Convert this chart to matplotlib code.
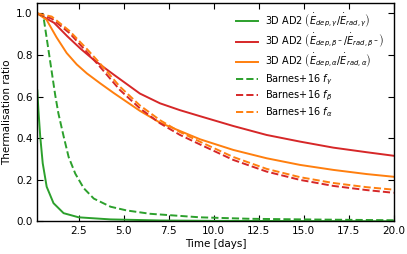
import matplotlib
matplotlib.use("Agg")
import matplotlib.pyplot as plt

# 3D AD2 gamma (solid green)
t_gamma_3d = [0.2, 0.26, 0.36, 0.5, 0.72, 1.1, 1.66, 2.5, 4.27, 7.0, 10.0, 20.0]
v_gamma_3d = [0.63, 0.536, 0.41, 0.28, 0.167, 0.088, 0.04, 0.02, 0.01, 0.005, 0.003, 0.001]

# 3D AD2 beta (solid red)
t_beta_3d = [0.2, 1.13, 1.87, 2.61, 3.35, 4.46, 5.9, 7.02, 8.13, 9.25, 11.09, 12.94, 14.8, 16.65, 18.5, 20.0]
v_beta_3d = [1.0, 0.955, 0.89, 0.83, 0.776, 0.705, 0.615, 0.568, 0.535, 0.506, 0.459, 0.416, 0.384, 0.355, 0.333, 0.316]

# 3D AD2 alpha (solid orange)
t_alpha_3d = [0.2, 0.71, 1.27, 1.83, 2.39, 2.95, 3.68, 4.44, 5.9, 7.02, 8.13, 9.25, 11.09, 12.94, 14.8, 16.65, 18.5, 20.0]
v_alpha_3d = [1.0, 0.97, 0.885, 0.81, 0.755, 0.712, 0.665, 0.618, 0.532, 0.475, 0.435, 0.395, 0.344, 0.304, 0.272, 0.248, 0.228, 0.215]

# Barnes+16 f_gamma (dashed green)
t_gamma_b = [0.2, 0.53, 0.81, 1.0, 1.19, 1.37, 1.66, 1.94, 2.31, 2.78, 3.34, 4.27, 5.17, 6.47, 9.25, 12.0, 15.0, 20.0]
v_gamma_b = [1.0, 0.99, 0.83, 0.72, 0.61, 0.52, 0.41, 0.31, 0.23, 0.16, 0.11, 0.071, 0.053, 0.037, 0.02, 0.013, 0.01, 0.006]

# Barnes+16 f_beta (dashed red)
t_beta_b = [0.2, 1.0, 2.0, 3.0, 3.68, 4.79, 5.9, 7.02, 8.13, 9.25, 11.09, 12.94, 14.8, 16.65, 18.5, 20.0]
v_beta_b = [1.0, 0.975, 0.905, 0.81, 0.744, 0.632, 0.544, 0.472, 0.416, 0.37, 0.296, 0.24, 0.2, 0.171, 0.151, 0.138]

# Barnes+16 f_alpha (dashed orange)
t_alpha_b = [0.2, 1.0, 2.0, 3.0, 3.68, 4.79, 5.9, 7.02, 8.13, 9.25, 11.09, 12.94, 14.8, 16.65, 18.5, 20.0]
v_alpha_b = [1.0, 0.985, 0.915, 0.825, 0.76, 0.648, 0.558, 0.487, 0.43, 0.383, 0.31, 0.253, 0.213, 0.185, 0.165, 0.153]

x_ticks = [2.5, 5.0, 7.5, 10.0, 12.5, 15.0, 17.5, 20.0]
y_ticks = [0.0, 0.2, 0.4, 0.6, 0.8, 1.0]

green = "#2ca02c"
red = "#d62728"
orange = "#ff7f0e"

fig = plt.figure(figsize=(4.07, 2.54), dpi=100)
ax = fig.add_axes([0.0917, 0.128, 0.967 - 0.0917, 0.988 - 0.128])

lw = 1.4
ax.plot(t_gamma_3d, v_gamma_3d, color=green, lw=lw,
        label=r"3D AD2 $\left(\dot{E}_{dep,\gamma}/\dot{E}_{rad,\gamma}\right)$")
ax.plot(t_beta_3d, v_beta_3d, color=red, lw=lw,
        label=r"3D AD2 $\left(\dot{E}_{dep,\beta^-}/\dot{E}_{rad,\beta^-}\right)$")
ax.plot(t_alpha_3d, v_alpha_3d, color=orange, lw=lw,
        label=r"3D AD2 $\left(\dot{E}_{dep,\alpha}/\dot{E}_{rad,\alpha}\right)$")
ax.plot(t_gamma_b, v_gamma_b, color=green, lw=lw, ls="--", label=r"Barnes+16 $f_\gamma$")
ax.plot(t_beta_b, v_beta_b, color=red, lw=lw, ls="--", label=r"Barnes+16 $f_\beta$")
ax.plot(t_alpha_b, v_alpha_b, color=orange, lw=lw, ls="--", label=r"Barnes+16 $f_\alpha$")

ax.set_xlim(0.2, 20.0)
ax.set_ylim(0.0, 1.05)
ax.set_xticks(x_ticks)
ax.set_yticks(y_ticks)
ax.tick_params(direction="in", top=True, right=True, labelsize=7.5, length=4, width=0.8)
ax.set_xlabel("Time [days]", fontsize=7.5, labelpad=2)
ax.set_ylabel("Thermalisation ratio", fontsize=7.5, labelpad=3)
for s in ax.spines.values():
    s.set_linewidth(1.0)

ax.legend(loc="upper right", frameon=False, fontsize=7, handlelength=2.2,
          handletextpad=0.8, labelspacing=0.2, borderaxespad=0.5)

fig.savefig("out.png", dpi=100)
